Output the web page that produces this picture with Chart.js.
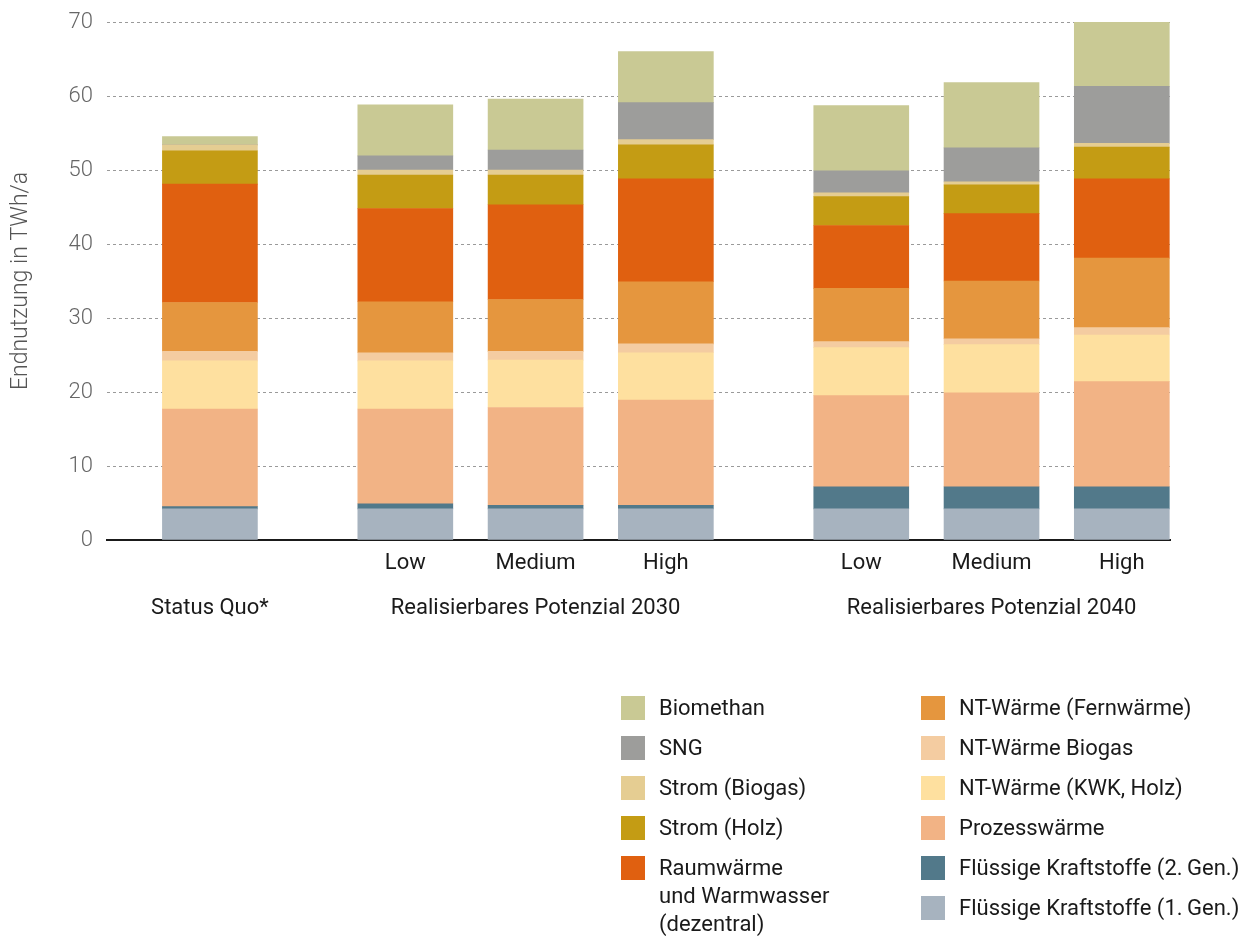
<!DOCTYPE html>
<html>
<head>
<meta charset="utf-8">
<script src="https://cdn.jsdelivr.net/npm/chart.js@4.4.1/dist/chart.umd.min.js"></script>
<style>
  body { margin: 0; background: #fff; font-family: Roboto, sans-serif; }
  #wrap { position: relative; width: 1245px; height: 937px; }
  #legend { position: absolute; left: 621px; top: 694px; display: flex; }
  #col1 { width: 300px; }
  .item { display: flex; align-items: flex-start; margin-bottom: 12px; font-size: 22px; line-height: 28px; color: #1a1a1a; white-space: pre; }
  .sw { width: 24px; height: 24px; margin-top: 2px; margin-right: 14px; flex: none; }
</style>
</head>
<body>
<div id="wrap">
  <canvas id="chart" width="1245" height="937"></canvas>
  <div id="legend"><div id="col1"></div><div id="col2"></div></div>
</div>
<script>
// bars: Status Quo, 2030 Low/Medium/High, 2040 Low/Medium/High
const scenarioLabels = ["", "Low", "Medium", "High", "Low", "Medium", "High"];
const groupLabels = ["Status Quo*", "", "Realisierbares Potenzial 2030", "", "", "Realisierbares Potenzial 2040", ""];
const slots = [0, 1.5, 2.5, 3.5, 5, 6, 7]; // bar slots on the x axis, gaps between groups

// TWh/a, stacked from the bottom up
const kraftstoffe1 = [4.2, 4.2, 4.2, 4.2, 4.2, 4.2, 4.2];
const kraftstoffe2 = [0.3, 0.7, 0.5, 0.5, 3.0, 3.0, 3.0];
const prozesswaerme = [13.2, 12.8, 13.2, 14.2, 12.3, 12.7, 14.2];
const ntKwkHolz = [6.5, 6.5, 6.4, 6.4, 6.5, 6.5, 6.3];
const ntBiogas = [1.3, 1.1, 1.2, 1.2, 0.8, 0.8, 1.0];
const ntFernwaerme = [6.6, 6.9, 7.0, 8.4, 7.2, 7.8, 9.4];
const raumwaerme = [16.0, 12.6, 12.8, 13.9, 8.5, 9.1, 10.7];
const stromHolz = [4.5, 4.5, 4.0, 4.6, 3.9, 3.9, 4.3];
const stromBiogas = [0.8, 0.7, 0.7, 0.7, 0.5, 0.4, 0.5];
const sng = [0, 1.9, 2.7, 5.0, 3.0, 4.6, 7.7];
const biomethan = [1.1, 6.9, 6.9, 6.9, 8.8, 8.8, 8.8];

const series = [
  { label: "Flüssige Kraftstoffe (1.\u2009Gen.)", values: kraftstoffe1, color: "#a7b3bf" },
  { label: "Flüssige Kraftstoffe (2.\u2009Gen.)", values: kraftstoffe2, color: "#52798a" },
  { label: "Prozesswärme", values: prozesswaerme, color: "#f2b385" },
  { label: "NT-Wärme (KWK, Holz)", values: ntKwkHolz, color: "#fee09f" },
  { label: "NT-Wärme Biogas", values: ntBiogas, color: "#f4cca1" },
  { label: "NT-Wärme (Fernwärme)", values: ntFernwaerme, color: "#e5963e" },
  { label: "Raumwärme\nund Warmwasser\n(dezentral)", values: raumwaerme, color: "#e06010" },
  { label: "Strom (Holz)", values: stromHolz, color: "#c49c14" },
  { label: "Strom (Biogas)", values: stromBiogas, color: "#e5cd92" },
  { label: "SNG", values: sng, color: "#9d9d9b" },
  { label: "Biomethan", values: biomethan, color: "#c9c994" },
];

// legend: two columns, top of stack first
const legendOrder = series.slice().reverse();
legendOrder.forEach((s, i) => {
  const item = document.createElement("div");
  item.className = "item";
  item.innerHTML = '<span class="sw" style="background:' + s.color + '"></span><span></span>';
  item.lastChild.textContent = s.label;
  document.getElementById(i < 5 ? "col1" : "col2").appendChild(item);
});

new Chart(document.getElementById("chart"), {
  type: "bar",
  data: {
    datasets: series.map(s => ({
      label: s.label,
      data: s.values.map((v, i) => ({ x: slots[i], y: v })),
      backgroundColor: s.color,
      barThickness: 95,
    })),
  },
  options: {
    responsive: false,
    animation: false,
    layout: { padding: { top: 22, right: 75, left: 0, bottom: 0 } },
    plugins: { legend: { display: false }, tooltip: { enabled: false } },
    scales: {
      x: {
        type: "linear",
        stacked: true,
        offset: false,
        min: -0.79,
        max: 7.37,
        grid: { display: false },
        border: { color: "#1a1a1a", width: 2 },
        afterBuildTicks: scale => { scale.ticks = slots.map(v => ({ value: v })); },
        afterFit: scale => { scale.height = 397; },
        ticks: {
          autoSkip: false,
          maxRotation: 0,
          minRotation: 0,
          padding: -7,
          color: "#1a1a1a",
          font: { family: "Roboto", size: 22, lineHeight: 2.05 },
          callback: (value, index) => [scenarioLabels[index], groupLabels[index]],
        },
      },
      y: {
        stacked: true,
        min: 0,
        max: 70,
        afterFit: scale => { scale.width = 107; scale.paddingTop = 0; scale.paddingBottom = 0; },
        ticks: { stepSize: 10, padding: 14, color: "#666", font: { family: "Roboto", size: 22, weight: "300" } },
        grid: { color: "#9a9a9a", drawTicks: false },
        border: { display: false, dash: [3, 3] },
        title: {
          display: true,
          text: "Endnutzung in TWh/a",
          color: "#555",
          font: { family: "Roboto", size: 23, weight: "300" },
          padding: { top: 7, bottom: 0 },
        },
      },
    },
  },
});
</script>
</body>
</html>
